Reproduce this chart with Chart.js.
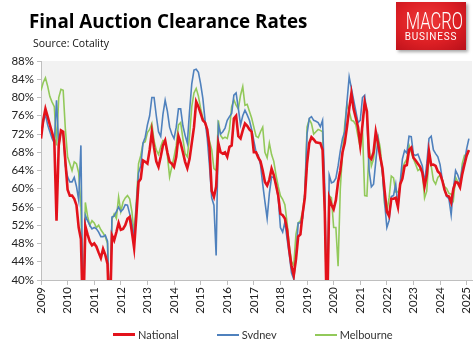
<!DOCTYPE html>
<html>
<head>
<meta charset="utf-8">
<script src="https://cdn.jsdelivr.net/npm/chart.js@4"></script>
<style>
  html, body { margin: 0; padding: 0; background: #fff; }
  #wrap { position: relative; width: 476px; height: 339px; overflow: hidden; font-family: Lato, "Open Sans", sans-serif; }
  #chart { position: absolute; left: 0; top: 0; }
  #title { position: absolute; left: 29px; top: 11.5px; font-family: "Open Sans", sans-serif; font-size: 18.8px; line-height: 1; font-weight: 700; color: #000; white-space: nowrap; }
  #source { position: absolute; left: 33px; top: 38px; font-family: "Open Sans", sans-serif; font-size: 10.5px; line-height: 1; color: #111; white-space: nowrap; }
  #logo { position: absolute; left: 396px; top: 2px; width: 70px; height: 48px;
          background: radial-gradient(ellipse at 45% 40%, #ee3a3a 0%, #dc1f24 55%, #b8101a 100%);
          box-shadow: 2px 2px 3px rgba(0,0,0,0.35); color: #fff; font-family: Roboto, sans-serif; text-align: center; }
  #logo .m { position: absolute; left: 0; width: 70px; top: 8px; font-size: 23px; line-height: 1; font-weight: 300; transform: scaleX(0.72); transform-origin: 50% 50%; }
  #logo .b { position: absolute; left: 0; width: 70px; top: 30px; font-size: 10px; line-height: 1; font-weight: 400; letter-spacing: 0.8px; }
  #legend { position: absolute; left: 113px; top: 328px; display: flex; gap: 38px; align-items: center; font-size: 11px; color: #333; white-space: nowrap; }
  #legend .item { display: flex; align-items: center; }
  #legend .sw { display: inline-block; width: 22px; margin-right: 3px; }
</style>
</head>
<body>
<div id="wrap">
  <canvas id="chart" width="476" height="339"></canvas>
  <div id="title">Final Auction Clearance Rates</div>
  <div id="source">Source: Cotality</div>
  <div id="logo"><div class="m">MACRO</div><div class="b">BUSINESS</div></div>
  <div id="legend"></div>
</div>
<script>
// Monthly final auction clearance rates (%), Jan 2009 onwards. Values below 40 fall off the axis.
const startYear = 2009;
const national = [
  71, 75, 77.5, 75.8, 74, 72.3, 70.5, 53, 69.5, 72.8,
  72.5, 66, 59.8, 58.5, 58.5, 57.8, 56.4, 51.5, 49, 30,
  51.8, 50, 48.4, 47.6, 48, 47.3, 46, 44.8, 46.8, 45.5,
  43.5, 30, 49.8, 48.7, 50.5, 52.5, 51, 51.2, 52, 53.4,
  53.8, 50.5, 47, 54, 61.5, 62.2, 66.2, 65.9, 65.5, 68.5,
  72.5, 69, 66, 64.8, 67, 69.5, 70.6, 68, 65.9, 65.5,
  64.8, 67, 71.5, 70, 68, 65.9, 64.5, 66.5, 70, 73.5,
  79.1, 78, 76.5, 75, 74.5, 73, 69, 59.5, 58.2, 60.5,
  70, 68, 67.7, 68, 67, 69.2, 69.5, 75.4, 76, 71.5,
  71, 72.8, 74.3, 73.8, 73, 72.5, 68, 68, 66.8, 66,
  64, 61.5, 60.7, 62, 64.4, 63, 60.8, 58.5, 54.5, 54.2,
  53.5, 51, 46.5, 43, 41, 44.5, 49.5, 50, 54.5, 58,
  65.5, 70, 71.3, 70.8, 70.2, 70.1, 70, 68.5, 55, 30,
  58, 56.5, 55.5, 57.5, 61.5, 64, 68, 70, 73.5, 77.5,
  80.9, 77.5, 75.5, 73.5, 69.5, 74, 79, 77, 67, 66.5,
  68, 72.5, 70, 67, 64.5, 59.5, 55, 54, 57.8, 57.8,
  58, 56, 61, 62.2, 65, 65.2, 68.5, 69, 66.8, 66.2,
  65.5, 64.8, 63.5, 60.5, 63, 68.2, 65.2, 65.3, 65, 63.8,
  63.3, 61.8, 59.8, 58.5, 58.3, 57, 60, 61.5, 61.3, 60.3,
  63.2, 65.3, 67.3, 68.5
];
const sydney = [
  71.7, 74.5, 76.3, 74, 72.5, 71, 70, 79.4, 69.5, 72.5,
  72, 65, 62.6, 61.5, 61.5, 62.5, 60.5, 57.5, 69.5, 30,
  54.2, 53, 52, 51.2, 51.5, 51.2, 50.5, 49.5, 49.5, 49.8,
  48.5, 30, 53.8, 54, 55, 56, 55, 55.5, 56.5, 56.4,
  54.5, 52.3, 49.2, 56.5, 63.5, 65, 70, 71.3, 74, 76,
  80, 80, 76, 72.5, 71.5, 76.3, 79.4, 77, 73.5, 72,
  71, 73.5, 77.5, 77.5, 73.8, 71.7, 70, 77, 83, 86,
  86.2, 85.5, 83, 79.8, 75, 71, 65, 58, 56.4, 45.4,
  74, 72, 72.5, 73.3, 75, 75.8, 76.5, 80.5, 81, 77.6,
  74, 76, 77.2, 76.2, 75, 73, 70.5, 68, 67.3, 65.3,
  61, 57.2, 53.5, 59, 62.6, 62.5, 61, 58, 51.5, 50.5,
  52.7, 49, 45.5, 41.5, 40.2, 45, 52.5, 52.5, 53.5, 59,
  72, 75.4, 75.8, 75, 74.8, 74.5, 73.6, 75, 60, 30,
  63, 61.3, 61.5, 62.3, 65, 68.3, 71, 72.5, 79, 84.5,
  82, 79.5, 77, 74.5, 75, 80, 80.5, 76, 64, 60.4,
  61, 66, 71, 67, 63.5, 57, 51.5, 53, 58.3, 58.5,
  61, 56, 61.3, 66.5, 68.4, 67.8, 71.5, 71.4, 67.5, 67.3,
  67.6, 66.3, 65, 61.3, 65.5, 71, 71.5, 68.5, 67.7, 67,
  65.3, 62, 59.8, 58.3, 57.8, 54.3, 60, 64, 63, 61.5,
  64.5, 66, 68.8, 71
];
const melbourne = [
  81.5, 83.3, 84.3, 82.5, 80.2, 79, 78, 69.5, 80, 81.8,
  81.6, 73, 67, 65.5, 64, 65.9, 65.5, 63.5, 56, 30,
  57, 54, 52, 53, 52.5, 51.5, 52, 51, 50.3, 49.5,
  48, 30, 53.3, 54.5, 53.5, 58.2, 55, 57.1, 58, 58.5,
  57.8, 55, 50, 57, 65.5, 67.3, 70, 70.3, 72.3, 73,
  74.3, 70.5, 68.5, 67.5, 69.2, 70.6, 70.5, 67.3, 62.6, 64.8,
  67, 69.5, 74, 74.5, 71, 67.7, 67, 71.5, 78, 81,
  82, 80.3, 77.6, 75.5, 74.5, 72.5, 70.5, 68.5, 64.4, 64,
  75, 71.7, 71, 71.3, 71, 73, 78, 79.5, 78.3, 77.5,
  80.5, 82.4, 78.3, 78.5, 77, 75.5, 73.5, 71.5, 71.2, 72.5,
  73.5, 68, 66.8, 70, 67.5, 66, 63, 60.5, 58.5, 57.7,
  56.5, 52.5, 47.5, 44, 43.2, 50, 52.5, 53, 55, 59,
  73.5, 75.2, 74.3, 72, 72.5, 73, 72.8, 72.5, 55, 30,
  58.5, 58, 51.5, 51.5, 43, 60, 68, 74, 78.5, 77,
  75, 74.8, 74, 71.5, 69, 73, 58.5, 58.4, 69, 65,
  66.5, 70.5, 71.5, 69, 63.5, 56.5, 55, 58, 62.8, 62.4,
  59.3, 59.3, 60.5, 64.5, 65.7, 66.5, 69.5, 68, 66.5, 65.3,
  64, 64.3, 63.8, 58, 59.5, 67, 65, 61.8, 61, 62.5,
  63, 62, 60.5, 60, 59, 58.8, 57.5, 62.5, 61.5, 60.5,
  65.5, 67.3, 67.2, 68.3
];
const seriesNames = ['National', 'Sydney', 'Melbourne'];
const seriesColors = ['#e3121b', '#4f81bd', '#92c95a'];
const yTicks = [40, 44, 48, 52, 56, 60, 64, 68, 72, 76, 80, 84, 88];
const xTickYears = [2009, 2010, 2011, 2012, 2013, 2014, 2015, 2016, 2017, 2018, 2019, 2020, 2021, 2022, 2023, 2024, 2025];

const toPoints = arr => arr.map((v, i) => ({ x: startYear + i / 12, y: v }));

const plotBg = {
  id: 'plotBg',
  beforeDraw(c) {
    const { ctx, chartArea: a } = c;
    ctx.save();
    ctx.fillStyle = '#f2f2f2';
    ctx.fillRect(a.left, a.top, a.right - a.left, a.bottom - a.top);
    ctx.restore();
  }
};

const tickFont = { family: 'Lato', size: 11.5 };
const widths = [2.6, 1.6, 1.6];
const chart = new Chart(document.getElementById('chart'), {
  type: 'line',
  data: {
    datasets: [national, sydney, melbourne].map((arr, i) => ({
      label: seriesNames[i],
      data: toPoints(arr),
      borderColor: seriesColors[i],
      backgroundColor: seriesColors[i],
      borderWidth: widths[i],
      pointRadius: 0,
      tension: 0,
      clip: 0
    }))
  },
  options: {
    responsive: false,
    animation: false,
    layout: { padding: { top: 61, right: 4, bottom: 14, left: 0 } },
    plugins: { legend: { display: false }, tooltip: { enabled: false } },
    scales: {
      x: {
        type: 'linear', min: 2009, max: 2025.2,
        afterBuildTicks: s => { s.ticks = xTickYears.map(v => ({ value: v })); },
        ticks: { autoSkip: false, minRotation: 90, maxRotation: 90, padding: 2, color: '#222', font: tickFont,
                 callback: v => String(v) },
        grid: { display: true, drawOnChartArea: false, drawTicks: true, tickLength: 5, color: '#bfbfbf' },
        border: { display: true, color: '#bfbfbf' },
        afterFit: s => { s.height = 45; s.paddingLeft = 0; s.paddingRight = 0; }
      },
      y: {
        min: 40, max: 88,
        afterBuildTicks: s => { s.ticks = yTicks.map(v => ({ value: v })); },
        ticks: { padding: 3, color: '#222', font: tickFont, callback: v => v + '%' },
        grid: { display: true, drawOnChartArea: false, drawTicks: true, tickLength: 4, color: '#bfbfbf' },
        border: { display: true, color: '#bfbfbf' },
        afterFit: s => { s.width = 41; }
      }
    }
  },
  plugins: [plotBg]
});

// HTML legend built from the chart's datasets
const legend = document.getElementById('legend');
chart.data.datasets.forEach(ds => {
  const item = document.createElement('div');
  item.className = 'item';
  const sw = document.createElement('span');
  sw.className = 'sw';
  sw.style.height = Math.round(ds.borderWidth) + 'px';
  sw.style.background = ds.borderColor;
  const t = document.createElement('span');
  t.textContent = ds.label;
  item.appendChild(sw); item.appendChild(t);
  legend.appendChild(item);
});
</script>
</body>
</html>
